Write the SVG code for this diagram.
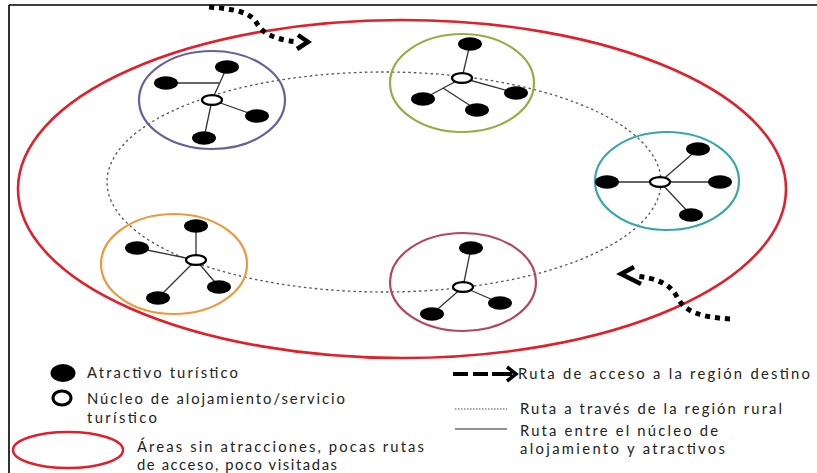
<svg xmlns="http://www.w3.org/2000/svg" width="817" height="473" viewBox="0 0 817 473">
<style>
.dot{fill:#000}
.hub{fill:#fff;stroke:#000;stroke-width:2.2}
.edge{stroke:#333;stroke-width:1.3;fill:none}
.ring{fill:none;stroke-width:2.2}
.route{fill:none;stroke:#555;stroke-width:1.3;stroke-dasharray:2.5 3}
.access{fill:none;stroke:#000;stroke-width:5;stroke-dasharray:5 5}
.head{fill:none;stroke:#000;stroke-width:4.5;stroke-linejoin:miter}
.lbl{font-family:Lato,"Liberation Sans",sans-serif;font-size:14.8px;fill:#222}
</style>
<rect x="0" y="0" width="817" height="473" fill="#fff"/>
<path d="M9,5 H817 M9,5 V473" stroke="#000" stroke-width="1.6" fill="none"/>
<g id="region">
<ellipse cx="402" cy="189" rx="384" ry="169" fill="none" stroke="#e0202a" stroke-width="2.6"/>
</g>
<g id="connectors">
<ellipse class="route" cx="384" cy="182" rx="277" ry="110"/>
<path class="access" d="M209,7 C237,9 250,13 256,22 C262,33 272,39 298,42"/>
<polyline class="head" points="298,35 308,42 297,49"/>
<path class="access" d="M730,319 C700,317 685,312 677,297 C670,283 655,278 635,276"/>
<polyline class="head" points="634,267 621,274 641,284"/>
<g class="edges">
<path class="edge" d="M212,100 L227,67 M166,83 H219 M212,100 L257,116 M212,100 L204,138"/>
<path class="edge" d="M462,78 L470,44 M462,78 L516,93 M462,78 L423,99 M443,88 L477,110"/>
<path class="edge" d="M660,182 H607 M660,182 H720 M660,182 L698,149 M660,182 L691,215"/>
<path class="edge" d="M196,260 V226 M196,260 L137,248 M196,260 L219,287 M196,260 L158,298"/>
<path class="edge" d="M463,287 L471,248 M463,287 L500,303 M463,287 L432,314"/>
</g>
</g>
<g id="cluster-purple">
<ellipse class="ring" stroke="#6a5f9c" cx="212" cy="100" rx="73" ry="49"/>
<ellipse class="dot" cx="227" cy="67" rx="12" ry="6.8"/>
<ellipse class="dot" cx="166" cy="83" rx="12" ry="6.8"/>
<ellipse class="dot" cx="257" cy="116" rx="12" ry="6.8"/>
<ellipse class="dot" cx="204" cy="138" rx="12" ry="6.8"/>
<ellipse class="hub" cx="212" cy="100" rx="10" ry="4.8"/>
</g>
<g id="cluster-green">
<ellipse class="ring" stroke="#9aab45" cx="462" cy="83" rx="72" ry="49"/>
<ellipse class="dot" cx="470" cy="44" rx="12" ry="6.8"/>
<ellipse class="dot" cx="516" cy="93" rx="12" ry="6.8"/>
<ellipse class="dot" cx="423" cy="99" rx="12" ry="6.8"/>
<ellipse class="dot" cx="477" cy="110" rx="12" ry="6.8"/>
<ellipse class="hub" cx="462" cy="78" rx="10" ry="4.8"/>
</g>
<g id="cluster-teal">
<ellipse class="ring" stroke="#3aa6a8" cx="667" cy="181" rx="72" ry="49"/>
<ellipse class="dot" cx="607" cy="182" rx="12" ry="6.8"/>
<ellipse class="dot" cx="720" cy="182" rx="12" ry="6.8"/>
<ellipse class="dot" cx="698" cy="149" rx="12" ry="6.8"/>
<ellipse class="dot" cx="691" cy="215" rx="12" ry="6.8"/>
<ellipse class="hub" cx="660" cy="182" rx="10" ry="4.8"/>
</g>
<g id="cluster-orange">
<ellipse class="ring" stroke="#ec9a3e" cx="174" cy="264" rx="73" ry="50"/>
<ellipse class="dot" cx="196" cy="226" rx="12" ry="6.8"/>
<ellipse class="dot" cx="137" cy="248" rx="12" ry="6.8"/>
<ellipse class="dot" cx="219" cy="287" rx="12" ry="6.8"/>
<ellipse class="dot" cx="158" cy="298" rx="12" ry="6.8"/>
<ellipse class="hub" cx="196" cy="260" rx="10" ry="4.8"/>
</g>
<g id="cluster-maroon">
<ellipse class="ring" stroke="#b4465e" cx="463" cy="282" rx="73" ry="49"/>
<ellipse class="dot" cx="471" cy="248" rx="12" ry="6.8"/>
<ellipse class="dot" cx="500" cy="303" rx="12" ry="6.8"/>
<ellipse class="dot" cx="432" cy="314" rx="12" ry="6.8"/>
<ellipse class="hub" cx="463" cy="287" rx="10" ry="4.8"/>
</g>
<g id="legend">
<ellipse cx="63" cy="373" rx="12.5" ry="9" fill="#000"/>
<text class="lbl" x="87" y="378" textLength="151">Atractivo turístico</text>
<ellipse cx="62" cy="398" rx="9" ry="7" fill="#fff" stroke="#000" stroke-width="3"/>
<text class="lbl" x="87" y="404" textLength="258">Núcleo de alojamiento/servicio</text>
<text class="lbl" x="87" y="423" textLength="70">turístico</text>
<ellipse cx="68" cy="450" rx="55" ry="18" fill="none" stroke="#e0202a" stroke-width="2.5"/>
<text class="lbl" x="137" y="452" textLength="287">Áreas sin atracciones, pocas rutas</text>
<text class="lbl" x="137" y="470" textLength="200">de acceso, poco visitadas</text>
<path d="M453,374 H468 M473,374 H488 M492,374 H512" stroke="#000" stroke-width="4" fill="none"/>
<polyline points="507,367 516,374 507,381" fill="none" stroke="#000" stroke-width="3.5"/>
<text class="lbl" x="518" y="379" textLength="292">Ruta de acceso a la región destino</text>
<line x1="455" y1="409" x2="507" y2="409" stroke="#444" stroke-width="1" stroke-dasharray="1.5 1.5"/>
<text class="lbl" x="520" y="414" textLength="262">Ruta a través de la región rural</text>
<line x1="455" y1="429" x2="507" y2="429" stroke="#222" stroke-width="1.2"/>
<text class="lbl" x="520" y="436" textLength="198">Ruta entre el núcleo de</text>
<text class="lbl" x="520" y="454" textLength="205">alojamiento y atractivos</text>
</g>
</svg>
